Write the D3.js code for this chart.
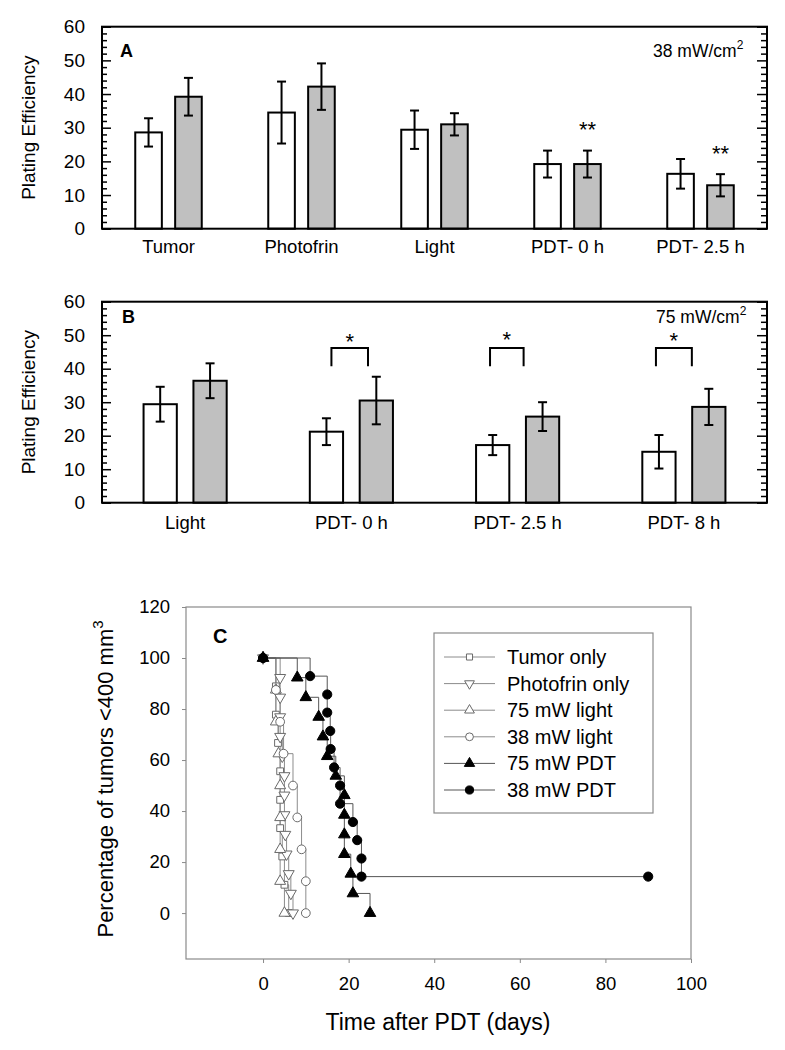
<!DOCTYPE html>
<html><head><meta charset="utf-8">
<script src="https://cdn.jsdelivr.net/npm/d3@7"></script>
<style>
body{margin:0;background:#fff}
svg{display:block}
text{font-family:"Liberation Sans",Arial,Helvetica,sans-serif;fill:#000}
</style>
</head><body>
<svg id="chart" width="785" height="1050"></svg>
<script>
// ---------- Panel A data (38 mW/cm2) ----------
const categoriesA = ["Tumor", "Photofrin", "Light", "PDT- 0 h", "PDT- 2.5 h"];
const openA     = [28.6, 34.5, 29.4, 19.2, 16.3];
const openErrA  = [4.2, 9.2, 5.7, 4.0, 4.4];
const grayA     = [39.2, 42.2, 31.0, 19.2, 12.9];
const grayErrA  = [5.6, 6.9, 3.3, 4.0, 3.3];
const starsA    = [{cat: "PDT- 0 h", value: 31.0, text: "**"}, {cat: "PDT- 2.5 h", value: 23.7, text: "**"}];

// ---------- Panel B data (75 mW/cm2) ----------
const categoriesB = ["Light", "PDT- 0 h", "PDT- 2.5 h", "PDT- 8 h"];
const openB     = [29.4, 21.2, 17.2, 15.2];
const openErrB  = [5.2, 4.0, 3.0, 5.0];
const grayB     = [36.4, 30.5, 25.7, 28.6];
const grayErrB  = [5.2, 7.1, 4.3, 5.4];
const bracketsB = [
  {cat: "PDT- 0 h",   left: -0.12,  right: 0.10,  low: 40.7, high: 46.2, star: 49.5},
  {cat: "PDT- 2.5 h", left: -0.166, right: 0.036, low: 40.7, high: 46.2, star: 50.3},
  {cat: "PDT- 8 h",   left: -0.168, right: 0.048, low: 40.7, high: 46.2, star: 49.8}
];
const yTicksAB = [0, 10, 20, 30, 40, 50, 60];
const yMinorAB = [2,4,6,8,12,14,16,18,22,24,26,28,32,34,36,38,42,44,46,48,52,54,56,58];

// ---------- Panel C data (Kaplan-Meier style) ----------
const tumorDays     = [0, 3, 3, 3.5, 4, 4, 4, 4.5, 5, 6];
const tumorPct      = [100, 88.9, 77.8, 66.7, 55.6, 44.4, 33.3, 22.2, 11.1, 0];
const photofrinDays = [0, 4, 4, 4, 4, 4.5, 5, 5, 5, 5.2, 5.5, 6, 6.5, 7];
const photofrinPct  = [100, 92.3, 84.6, 76.9, 69.2, 61.5, 53.8, 46.2, 38.5, 30.8, 23.1, 15.4, 7.7, 0];
const light75Days   = [0, 3, 3, 3.6, 4, 4, 4, 4, 5];
const light75Pct    = [100, 87.5, 75, 62.5, 50, 37.5, 25, 12.5, 0];
const light38Days   = [0, 3, 4, 4.8, 7, 8, 9, 10, 10];
const light38Pct    = [100, 87.5, 75, 62.5, 50, 37.5, 25, 12.5, 0];
const pdt75Days     = [0, 8, 10, 13, 14, 15, 17, 19, 19, 19, 19, 20.5, 21, 25];
const pdt75Pct      = [100, 92.3, 84.6, 76.9, 69.2, 61.5, 53.8, 46.2, 38.5, 30.8, 23.1, 15.4, 7.7, 0];
const pdt38Days     = [0, 11, 15, 15, 15.7, 15.8, 16.6, 18, 18, 21, 22, 23, 23, 90];
const pdt38Pct      = [100, 92.9, 85.7, 78.6, 71.4, 64.3, 57.1, 50, 42.9, 35.7, 28.6, 21.4, 14.3, 14.3];
const seriesNamesC  = ["Tumor only", "Photofrin only", "75 mW light", "38 mW light", "75 mW PDT", "38 mW PDT"];
const xTicksC = [0, 20, 40, 60, 80, 100];
const yTicksC = [0, 20, 40, 60, 80, 100, 120];

const svg = d3.select("#chart");
const TICKFONT = 19;
const LABFONT = 18.5;

// ---------- bar panel builder ----------
function barPanel(cfg) {
  const g = svg.append("g");
  const x0 = d3.scaleBand().domain(cfg.cats).range([102, 767]).paddingInner(0.5).paddingOuter(0.25);
  const x1 = d3.scaleBand().domain(["open", "gray"]).range([0, x0.bandwidth()]).paddingInner(1/3);
  const y = d3.scaleLinear().domain([0, 60]).range([cfg.bottom, cfg.top]);
  const rows = cfg.cats.map((c, i) => ({cat: c, open: cfg.open[i], openErr: cfg.openErr[i], gray: cfg.gray[i], grayErr: cfg.grayErr[i]}));

  ["open", "gray"].forEach(s => {
    g.selectAll(null).data(rows).join("rect")
      .attr("x", d => x0(d.cat) + x1(s))
      .attr("y", d => y(d[s]))
      .attr("width", x1.bandwidth())
      .attr("height", d => y(0) - y(d[s]))
      .attr("fill", s === "open" ? "#ffffff" : "#c0c0c0")
      .attr("stroke", "#000").attr("stroke-width", 2);
    const eg = g.selectAll(null).data(rows).join("g")
      .attr("transform", d => `translate(${x0(d.cat) + x1(s) + x1.bandwidth() / 2},0)`);
    eg.append("line").attr("x1", 0).attr("x2", 0)
      .attr("y1", d => y(d[s] + d[s + "Err"])).attr("y2", d => y(d[s] - d[s + "Err"]))
      .attr("stroke", "#000").attr("stroke-width", 2);
    [1, -1].forEach(sign => {
      eg.append("line").attr("x1", -4.5).attr("x2", 4.5)
        .attr("y1", d => y(d[s] + sign * d[s + "Err"])).attr("y2", d => y(d[s] + sign * d[s + "Err"]))
        .attr("stroke", "#000").attr("stroke-width", 2);
    });
  });

  const left = g.append("g").attr("transform", "translate(102,0)")
    .call(d3.axisLeft(y).tickValues(yTicksAB).tickSize(-9).tickPadding(17));
  const leftMinor = g.append("g").attr("transform", "translate(102,0)")
    .call(d3.axisLeft(y).tickValues(yMinorAB).tickSize(-5).tickFormat(""));
  const right = g.append("g").attr("transform", "translate(767,0)")
    .call(d3.axisRight(y).tickValues(yTicksAB).tickSize(-10).tickFormat(""));
  const rightMinor = g.append("g").attr("transform", "translate(767,0)")
    .call(d3.axisRight(y).tickValues(yMinorAB).tickSize(-6).tickFormat(""));
  const bottom = g.append("g").attr("transform", `translate(0,${cfg.bottom})`)
    .call(d3.axisBottom(x0).tickSize(0).tickPadding(cfg.labPad));
  [left, leftMinor, right, rightMinor, bottom].forEach(a => {
    a.select(".domain").remove();
    a.selectAll("line").attr("stroke", "#000").attr("stroke-width", 1.5);
    a.selectAll("text").attr("fill", "#000")
      .style("font-family", '"Liberation Sans",Arial,sans-serif');
  });
  left.selectAll("text").attr("font-size", TICKFONT);
  bottom.selectAll("text").attr("font-size", LABFONT);

  g.append("rect").attr("x", 102).attr("y", cfg.top).attr("width", 665).attr("height", cfg.bottom - cfg.top)
    .attr("fill", "none").attr("stroke", "#000").attr("stroke-width", 2);

  g.append("text").attr("transform", `translate(35,${(cfg.top + cfg.bottom) / 2}) rotate(-90)`)
    .attr("text-anchor", "middle").attr("font-size", 19).text("Plating Efficiency");

  g.append("text").attr("x", cfg.letterX).attr("y", cfg.letterY).attr("font-size", 18)
    .attr("font-weight", "bold").text(cfg.letter);

  const pl = g.append("text").attr("x", cfg.powerX).attr("y", cfg.letterY).attr("font-size", 17.5).text(cfg.power);
  pl.append("tspan").attr("font-size", 12).attr("dx", 0).attr("dy", -8).text("2");

  return {g, x0, x1, y};
}

// Panel A
const pa = barPanel({cats: categoriesA, open: openA, openErr: openErrA, gray: grayA, grayErr: grayErrA,
  top: 26.7, bottom: 228.7, labPad: 11.5, letter: "A", letterX: 120, letterY: 57, power: "38 mW/cm", powerX: 653});
pa.g.selectAll(null).data(starsA).join("text")
  .attr("x", d => pa.x0(d.cat) + pa.x1("gray") + pa.x1.bandwidth() / 2)
  .attr("y", d => pa.y(d.value) + 12.5)
  .attr("text-anchor", "middle").attr("font-size", 22).text(d => d.text);

// Panel B
const pb = barPanel({cats: categoriesB, open: openB, openErr: openErrB, gray: grayB, grayErr: grayErrB,
  top: 301.7, bottom: 502.7, labPad: 13.5, letter: "B", letterX: 122, letterY: 323, power: "75 mW/cm", powerX: 656});
bracketsB.forEach(b => {
  const cx = pb.x0(b.cat) + pb.x0.bandwidth() / 2;
  const step = pb.x0.step();
  const xl = cx + b.left * step, xr = cx + b.right * step;
  pb.g.append("path")
    .attr("d", `M${xl},${pb.y(b.low)}V${pb.y(b.high)}H${xr}V${pb.y(b.low)}`)
    .attr("fill", "none").attr("stroke", "#000").attr("stroke-width", 2);
  pb.g.append("text").attr("x", (xl + xr) / 2).attr("y", pb.y(b.star) + 12.5)
    .attr("text-anchor", "middle").attr("font-size", 22).text("*");
});

// ---------- Panel C ----------
const gc = svg.append("g");
const xc = d3.scaleLinear().domain([-18, 100]).range([186, 691]);
const yc = d3.scaleLinear().domain([-18, 120]).range([959, 607]);
const AX = "#8a8a8a";

gc.append("rect").attr("x", 186).attr("y", 607).attr("width", 505).attr("height", 352)
  .attr("fill", "none").attr("stroke", AX).attr("stroke-width", 1.2);
const axL = gc.append("g").attr("transform", "translate(186,0)")
  .call(d3.axisLeft(yc).tickValues(yTicksC).tickSize(4).tickPadding(12));
const axB = gc.append("g").attr("transform", "translate(0,959)")
  .call(d3.axisBottom(xc).tickValues(xTicksC).tickSize(4).tickPadding(14));
[axL, axB].forEach(a => {
  a.select(".domain").remove();
  a.selectAll("line").attr("stroke", AX);
  a.selectAll("text").attr("font-size", 18.5).attr("fill", "#000")
    .style("font-family", '"Liberation Sans",Arial,sans-serif');
});

gc.append("text").attr("x", 438).attr("y", 1030).attr("text-anchor", "middle").attr("font-size", 23)
  .text("Time after PDT (days)");
const ytC = gc.append("text").attr("transform", "translate(113,779) rotate(-90)")
  .attr("text-anchor", "middle").attr("font-size", 22).text("Percentage of tumors <400 mm");
ytC.append("tspan").attr("font-size", 15).attr("dy", -10).text("3");

gc.append("text").attr("x", 213).attr("y", 643).attr("font-size", 20).attr("font-weight", "bold").text("C");

const seriesC = [
  {name: seriesNamesC[0], days: tumorDays, pct: tumorPct, sym: d3.symbolSquare, size: 46, rot: 0, fill: "#fff", stroke: "#6a6a6a"},
  {name: seriesNamesC[1], days: photofrinDays, pct: photofrinPct, sym: d3.symbolTriangle, size: 52, rot: 180, fill: "#fff", stroke: "#6a6a6a"},
  {name: seriesNamesC[2], days: light75Days, pct: light75Pct, sym: d3.symbolTriangle, size: 52, rot: 0, fill: "#fff", stroke: "#6a6a6a"},
  {name: seriesNamesC[3], days: light38Days, pct: light38Pct, sym: d3.symbolCircle, size: 60, rot: 0, fill: "#fff", stroke: "#6a6a6a"},
  {name: seriesNamesC[4], days: pdt75Days, pct: pdt75Pct, sym: d3.symbolTriangle, size: 58, rot: 0, fill: "#000", stroke: "#000"},
  {name: seriesNamesC[5], days: pdt38Days, pct: pdt38Pct, sym: d3.symbolCircle, size: 66, rot: 0, fill: "#000", stroke: "#000"}
];
const stepLine = d3.line().x(d => xc(d[0])).y(d => yc(d[1])).curve(d3.curveStepAfter);
seriesC.forEach(s => {
  const pts = s.days.map((t, i) => [t, s.pct[i]]);
  gc.append("path").attr("d", stepLine(pts)).attr("fill", "none")
    .attr("stroke", s.fill === "#000" ? "#555" : "#8c8c8c").attr("stroke-width", 1);
});
seriesC.forEach(s => {
  const pts = s.days.map((t, i) => [t, s.pct[i]]);
  gc.selectAll(null).data(pts).join("path")
    .attr("d", d3.symbol().type(s.sym).size(s.size))
    .attr("transform", d => `translate(${xc(d[0])},${yc(d[1])}) rotate(${s.rot})`)
    .attr("fill", s.fill).attr("stroke", s.stroke).attr("stroke-width", 1);
});

// legend
const lg = gc.append("g");
lg.append("rect").attr("x", 434).attr("y", 633).attr("width", 219).attr("height", 180)
  .attr("fill", "#fff").attr("stroke", AX).attr("stroke-width", 1.2);
seriesC.forEach((s, i) => {
  const by = 664 + i * 26.6;
  const my = by - 7;
  lg.append("line").attr("x1", 444).attr("x2", 495).attr("y1", my).attr("y2", my)
    .attr("stroke", s.fill === "#000" ? "#555" : "#8c8c8c").attr("stroke-width", 1);
  lg.append("path").attr("d", d3.symbol().type(s.sym).size(s.size * 0.8))
    .attr("transform", `translate(469.5,${my}) rotate(${s.rot})`)
    .attr("fill", s.fill).attr("stroke", s.stroke).attr("stroke-width", 1);
  lg.append("text").attr("x", 507).attr("y", by).attr("font-size", 20).text(s.name);
});
</script>
</body></html>
